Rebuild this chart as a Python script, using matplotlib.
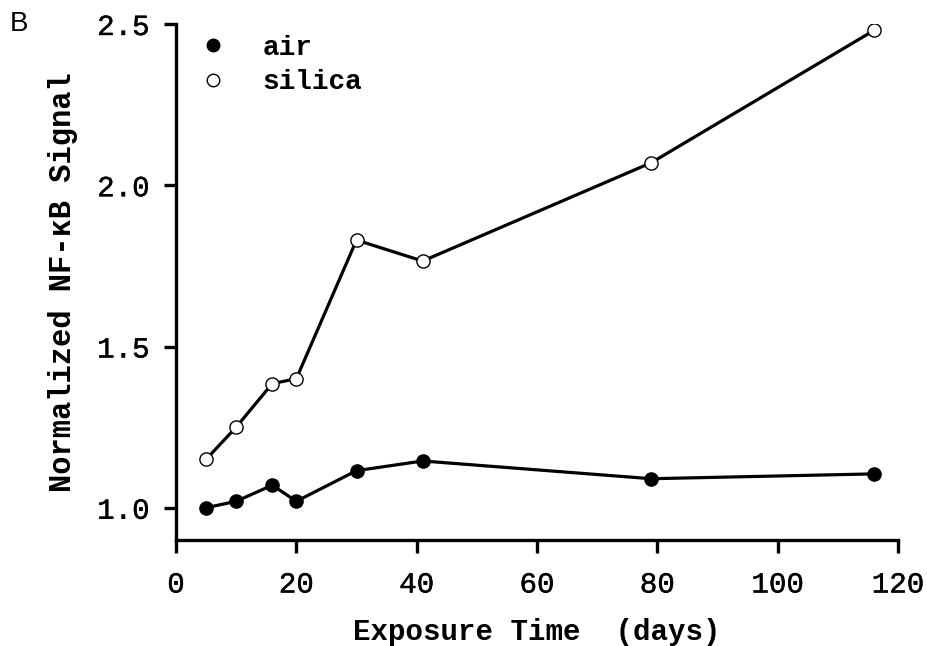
import matplotlib
matplotlib.use("Agg")
import matplotlib.pyplot as plt
from matplotlib.lines import Line2D
import matplotlib.patheffects as pe

days_air = [5, 10, 16, 20, 30, 41, 79, 116]
air = [1.00, 1.02, 1.07, 1.02, 1.115, 1.145, 1.09, 1.105]
days_silica = [5, 10, 16, 20, 30, 41, 79, 116]
silica = [1.15, 1.25, 1.385, 1.40, 1.83, 1.765, 2.07, 2.48]
xticks = [0, 20, 40, 60, 80, 100, 120]
yticks = [1.0, 1.5, 2.0, 2.5]

mono = "Liberation Mono"
thick = [pe.withStroke(linewidth=0.3, foreground="black")]

fig = plt.figure(figsize=(9.27, 6.46), dpi=100)
ax = fig.add_axes([176/927, 1 - 540/646, (898-176)/927, (540-24)/646])

ax.plot(days_air, air, color="black", lw=2.3, marker="o", ms=9.5,
        mfc="black", mec="black", zorder=3)
ax.plot(days_silica, silica, color="black", lw=2.3, marker="o", ms=9.5,
        mfc="white", mec="black", mew=1.0, zorder=3)

ax.set_xlim(0, 120)
ax.set_ylim(0.9, 2.5)
ax.set_xticks(xticks)
ax.set_yticks(yticks)
xl = ax.set_xticklabels([str(t) for t in xticks], fontfamily=mono, fontsize=21)
yl = ax.set_yticklabels([f"{t:.1f}" for t in yticks], fontfamily=mono, fontsize=21)
for t in list(xl) + list(yl):
    t.set_path_effects(thick)
for s in ["top", "right"]:
    ax.spines[s].set_visible(False)
for s in ["left", "bottom"]:
    ax.spines[s].set_linewidth(2.4)
ax.tick_params(direction="out", length=9, width=2.4)
ax.tick_params(axis="x", pad=13)
ax.tick_params(axis="y", pad=10)

ax.set_xlabel("Exposure Time  (days)", fontfamily=mono, fontweight="bold",
              fontsize=21, labelpad=14)
ax.set_ylabel("Normalized NF-\u03baB Signal", fontfamily=mono, fontweight="bold",
              fontsize=22, labelpad=14)

handles = [
    Line2D([], [], ls="none", marker="o", ms=9, mfc="black", mec="black"),
    Line2D([], [], ls="none", marker="o", ms=9, mfc="white", mec="black", mew=1.0),
]
ax.legend(handles, ["air", "silica"], loc="upper left",
          bbox_to_anchor=(-0.003, 1.027), frameon=False,
          prop={"family": mono, "weight": "bold", "size": 20},
          handlelength=1.0, handletextpad=1.3, labelspacing=0.3)

fig.text(10/927, 1 - 24/646, "B", fontsize=20, fontfamily="Liberation Sans",
         va="center", ha="left")

fig.savefig("out.png", dpi=100)
